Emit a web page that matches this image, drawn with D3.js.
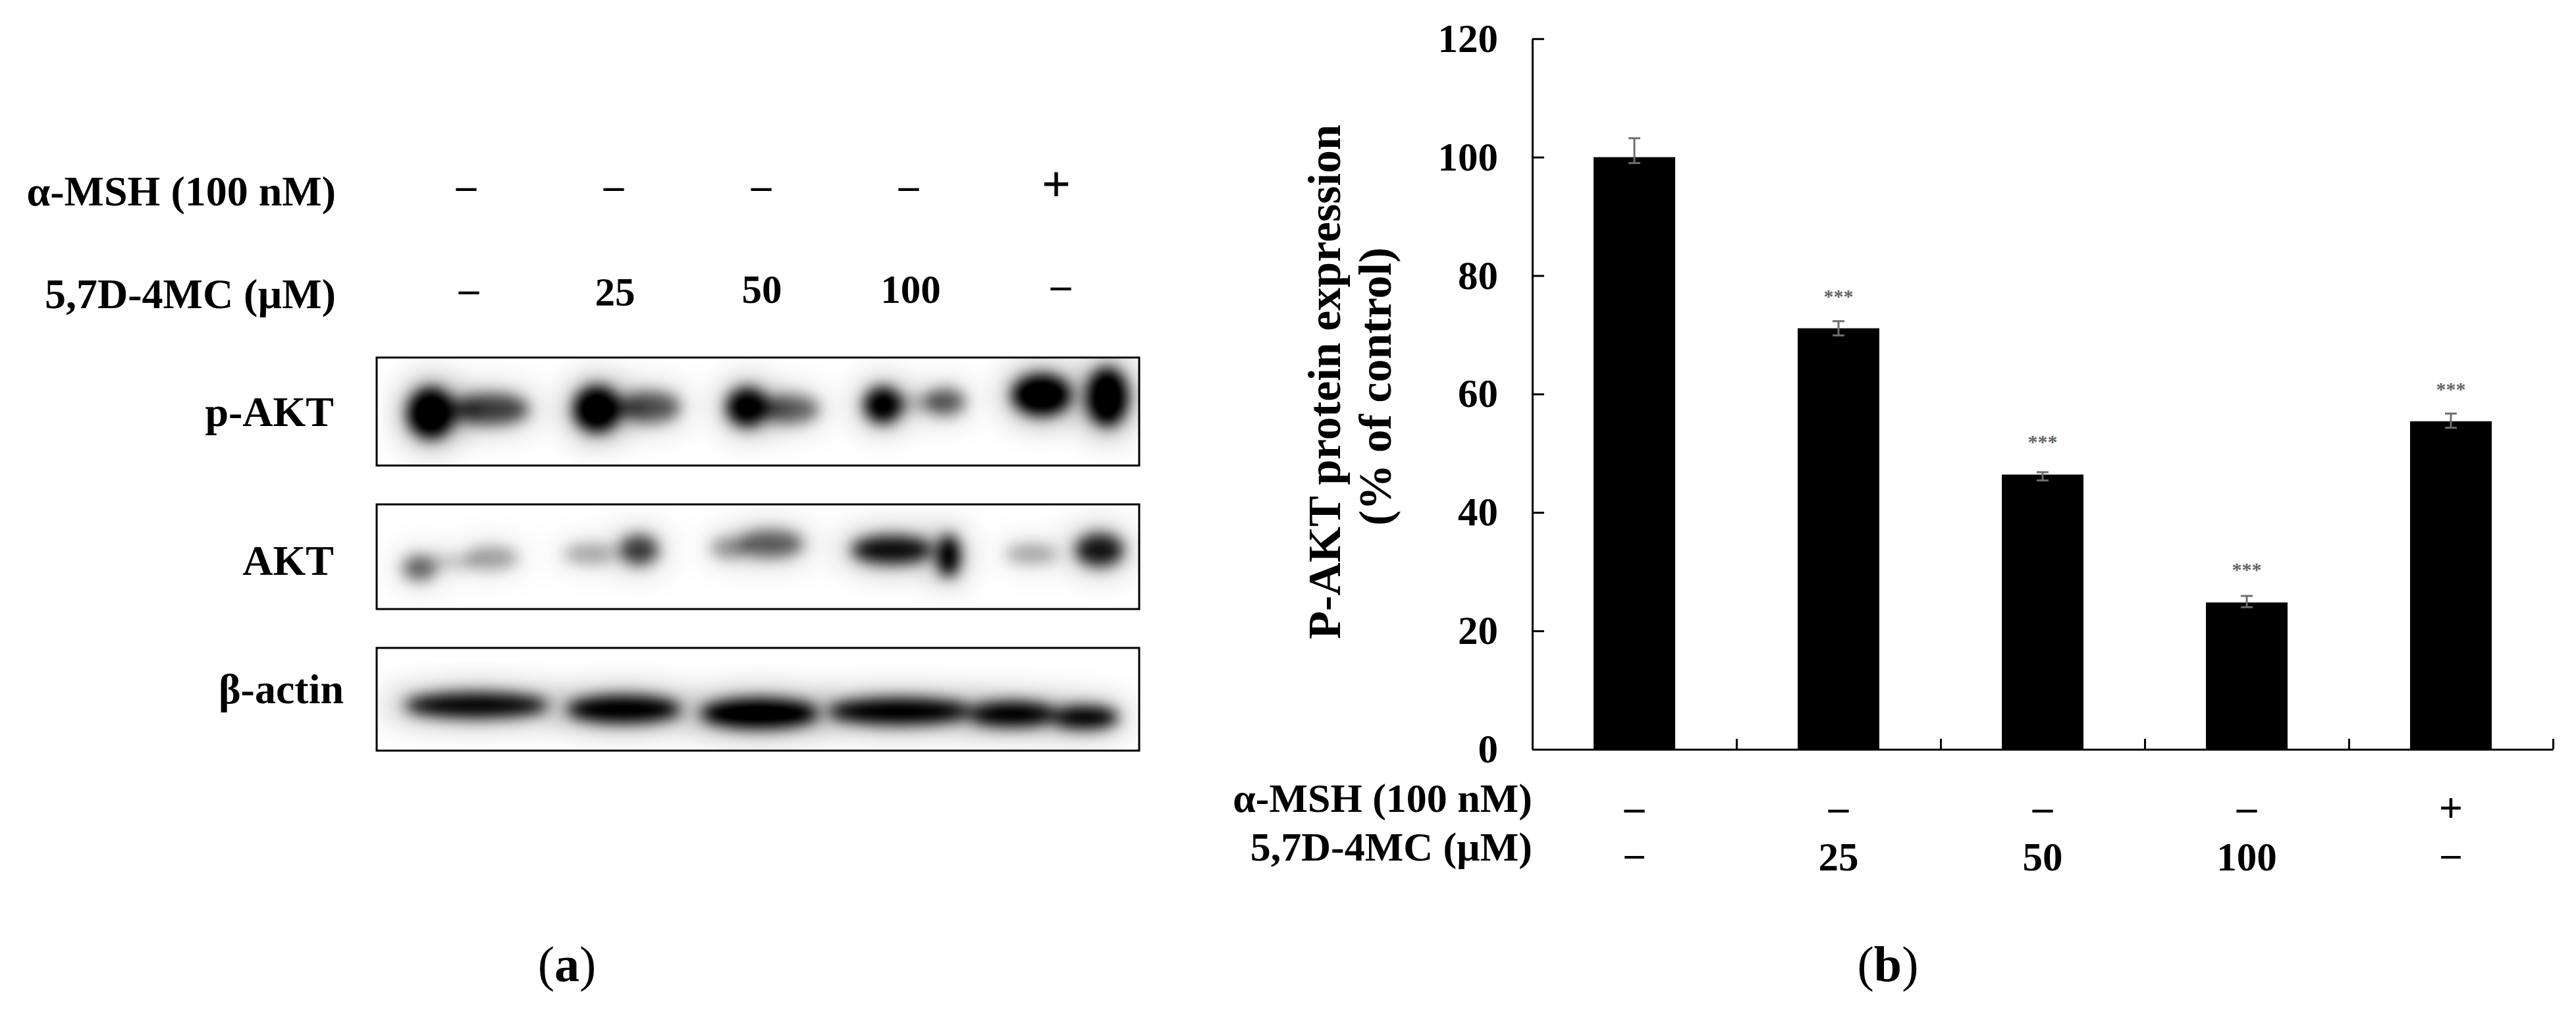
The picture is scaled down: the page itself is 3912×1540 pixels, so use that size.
<!DOCTYPE html>
<html>
<head>
<meta charset="utf-8">
<script src="https://cdn.jsdelivr.net/npm/d3@7"></script>
<style>
  html, body { margin: 0; padding: 0; background: #fff; }
  svg { display: block; }
  text { font-family: "Liberation Serif", serif; font-weight: 700; fill: #000; }
</style>
</head>
<body>
<svg id="fig" width="3912" height="1540"></svg>
<script>
// Treatment groups, same order in both panels
const groups = ["ctrl", "d25", "d50", "d100", "msh"];
const mshRow = ["–", "–", "–", "–", "+"];
const doseRow = ["–", "25", "50", "100", "–"];

// Panel (b) values, % of control
const yTicks = [0, 20, 40, 60, 80, 100, 120];
const means = [100, 71.1, 46.4, 24.8, 55.4];
const errHigh = [103.2, 72.3, 46.8, 25.9, 56.7];
const errLow = [99, 69.9, 45.4, 24, 54.3];
const starValues = [null, 76.7, 52.1, 30.6, 61.1];

// Panel (a) blot lobes: [lane %, migration %, half width %, half height %, darkness]
const pAktLobes = [
  [7.1, 51.5, 2.6, 20, 1], [15.1, 47.8, 4.2, 12, 0.62], [10.5, 49, 3, 9, 0.35],
  [28.9, 47.8, 2.6, 18, 1], [35.9, 45.9, 3.4, 12, 0.55], [32, 47, 3, 8, 0.3],
  [48.6, 45.9, 2.3, 15, 0.95], [54.2, 47.8, 3.3, 11, 0.5], [51.3, 47, 2.5, 7, 0.25],
  [66.4, 44, 2.1, 14, 0.95], [74.5, 41, 2.3, 10, 0.55], [70.6, 42, 3, 6, 0.2],
  [87.2, 34.7, 3.3, 16, 1], [95.8, 36.6, 2.3, 23, 1]
];
const aktLobes = [
  [5.6, 60.8, 1.9, 10, 0.5], [15.1, 51.2, 3, 9, 0.3], [10.1, 55, 3, 5, 0.2],
  [34.4, 43.5, 2.2, 12, 0.65], [27.9, 47.3, 3, 8, 0.28],
  [51.7, 37.7, 3.7, 11, 0.52], [46.3, 41.5, 2.2, 8, 0.35],
  [67.6, 43.5, 4.6, 11, 0.85], [75, 49.2, 1.2, 17, 1],
  [94.8, 43.5, 2.7, 13, 0.8], [85.9, 47.3, 3, 8, 0.28]
];
const actinLobes = [
  [13.1, 55.9, 8.2, 10, 0.9],
  [32.4, 59.8, 6.5, 11, 0.95],
  [50.2, 63.8, 6.7, 12, 1],
  [68.6, 61.8, 8.2, 10.5, 0.95],
  [83.4, 64.6, 5, 10, 0.95], [92.9, 67.7, 3.8, 9, 0.95]
];
const blotNames = ["p-AKT", "AKT", "β-actin"];
const blotLobes = [pAktLobes, aktLobes, actinLobes];

const svg = d3.select("#fig");
const fontSize = 61;

// --- blur filters for the bands
const defs = svg.append("defs");
[["coreBlur", 11, 1.15], ["haloBlur", 24, 1]].forEach(([id, sd, slope]) => {
  const f = defs.append("filter").attr("id", id)
    .attr("x", "-60%").attr("y", "-60%").attr("width", "220%").attr("height", "220%");
  f.append("feGaussianBlur").attr("stdDeviation", sd);
  f.append("feComponentTransfer").append("feFuncA").attr("type", "linear").attr("slope", slope);
});

// --- Panel (a)
const boxX = [572, 1730];
const boxes = [[543, 707], [766, 925], [984, 1140]];
const labelPos = [[507, 647], [507, 873], [522, 1068]];

const xBlot = d3.scaleLinear().domain([0, 100]).range(boxX);
const panelA = svg.append("g").attr("class", "panel-a");

blotNames.forEach((name, i) => {
  const yBlot = d3.scaleLinear().domain([0, 100]).range(boxes[i]);
  const clipId = "clip" + i;
  defs.append("clipPath").attr("id", clipId).append("rect")
    .attr("x", boxX[0]).attr("y", boxes[i][0])
    .attr("width", boxX[1] - boxX[0]).attr("height", boxes[i][1] - boxes[i][0]);

  const g = panelA.append("g").attr("clip-path", `url(#${clipId})`);
  const lobes = blotLobes[i];

  g.append("g").attr("filter", "url(#haloBlur)").selectAll("ellipse").data(lobes).join("ellipse")
    .attr("cx", d => xBlot(d[0])).attr("cy", d => yBlot(d[1]))
    .attr("rx", d => (xBlot(d[2]) - xBlot(0)) * 1.5)
    .attr("ry", d => (yBlot(d[3]) - yBlot(0)) * 1.6)
    .attr("fill", "#000").attr("fill-opacity", d => d[4] * 0.38);

  g.append("g").attr("filter", "url(#coreBlur)").selectAll("ellipse").data(lobes).join("ellipse")
    .attr("cx", d => xBlot(d[0])).attr("cy", d => yBlot(d[1]))
    .attr("rx", d => (xBlot(d[2]) - xBlot(0)) * 1.15)
    .attr("ry", d => (yBlot(d[3]) - yBlot(0)) * 1.15)
    .attr("fill", "#000").attr("fill-opacity", d => d[4]);

  panelA.append("rect")
    .attr("x", boxX[0]).attr("y", boxes[i][0])
    .attr("width", boxX[1] - boxX[0]).attr("height", boxes[i][1] - boxes[i][0])
    .attr("fill", "none").attr("stroke", "#000").attr("stroke-width", 3);

  panelA.append("text")
    .attr("x", labelPos[i][0]).attr("y", labelPos[i][1])
    .attr("text-anchor", "end").attr("font-size", 64)
    .text(name);
});

// treatment table above the blots
const xLane = d3.scalePoint().domain(groups).range([708, 1604]);
const doseNudgeX = [4, 2, 1, 3, 7];
const doseNudgeY = [0, 0, -4, -4, -6];

panelA.append("text").attr("x", 510).attr("y", 312)
  .attr("text-anchor", "end").attr("font-size", 64).text("α-MSH (100 nM)");
panelA.append("text").attr("x", 510).attr("y", 468)
  .attr("text-anchor", "end").attr("font-size", 64).text("5,7D-4MC (µM)");

panelA.selectAll(".msh").data(mshRow).join("text").attr("class", "msh")
  .attr("x", (d, i) => xLane(groups[i]))
  .attr("y", d => d === "+" ? 306 : 302)
  .attr("text-anchor", "middle")
  .attr("font-size", d => d === "+" ? 78 : fontSize)
  .attr("font-weight", 400)
  .text(d => d);

panelA.selectAll(".dose").data(doseRow).join("text").attr("class", "dose")
  .attr("x", (d, i) => xLane(groups[i]) + doseNudgeX[i])
  .attr("y", (d, i) => (d === "–" ? 459 : 464) + doseNudgeY[i])
  .attr("text-anchor", "middle").attr("font-size", fontSize)
  .text(d => d);

panelA.append("text").attr("x", 861).attr("y", 1490)
  .attr("text-anchor", "middle").attr("font-size", 76)
  .call(t => {
    t.append("tspan").attr("font-weight", 400).text("(");
    t.append("tspan").text("a");
    t.append("tspan").attr("font-weight", 400).text(")");
  });

// --- Panel (b)
const axisX = [2327, 3877];
const axisY = [1138, 58.8];

const x = d3.scaleBand().domain(groups).range(axisX).paddingInner(0.6).paddingOuter(0.3);
const xEdges = d3.scaleLinear().domain([0, groups.length]).range(axisX);
const y = d3.scaleLinear().domain([0, 120]).range(axisY);
const cx = (d, i) => x(groups[i]) + x.bandwidth() / 2;

const panelB = svg.append("g").attr("class", "panel-b");

panelB.append("g").selectAll("rect").data(means).join("rect")
  .attr("x", (d, i) => x(groups[i]))
  .attr("y", d => y(d))
  .attr("width", x.bandwidth())
  .attr("height", d => y(0) - y(d))
  .attr("fill", "#000");

// error bars, grey over the black bars
const errG = panelB.append("g").attr("stroke", "#6e6e6e").attr("stroke-width", 3).attr("fill", "none");
errG.selectAll(".stem").data(means).join("line").attr("class", "stem")
  .attr("x1", cx).attr("x2", cx)
  .attr("y1", (d, i) => y(errHigh[i])).attr("y2", (d, i) => y(errLow[i]));
[errHigh, errLow].forEach((vals, k) => {
  errG.selectAll(".cap" + k).data(vals).join("line").attr("class", "cap" + k)
    .attr("x1", (d, i) => cx(d, i) - 9).attr("x2", (d, i) => cx(d, i) + 9)
    .attr("y1", d => y(d)).attr("y2", d => y(d));
});

// significance marks, first group has none
panelB.selectAll(".stars").data(starValues).join("text").attr("class", "stars")
  .attr("x", cx)
  .attr("y", d => d === null ? 0 : y(d) + 12)
  .attr("text-anchor", "middle")
  .attr("font-size", 30)
  .attr("font-weight", 400)
  .style("fill", "#666")
  .text(d => d === null ? "" : "***");

const yAxis = panelB.append("g").attr("transform", `translate(${axisX[0]},0)`)
  .call(d3.axisLeft(y).tickValues(yTicks).tickSizeInner(-18).tickSizeOuter(0).tickPadding(52));
const xAxis = panelB.append("g").attr("transform", `translate(0,${axisY[0]})`)
  .call(d3.axisBottom(xEdges).ticks(groups.length).tickFormat("").tickSizeInner(-16).tickSizeOuter(0));

[yAxis, xAxis].forEach(a => {
  a.selectAll("path, line").attr("stroke", "#000").attr("stroke-width", 3);
  a.selectAll("text").attr("font-size", fontSize).attr("font-family", null);
});

panelB.append("text").attr("x", 2327).attr("y", 1233)
  .attr("text-anchor", "end").attr("font-size", 62).text("α-MSH (100 nM)");
panelB.append("text").attr("x", 2327).attr("y", 1307)
  .attr("text-anchor", "end").attr("font-size", 62).text("5,7D-4MC (µM)");

panelB.selectAll(".msh").data(mshRow).join("text").attr("class", "msh")
  .attr("x", cx).attr("y", d => d === "+" ? 1248 : 1246)
  .attr("text-anchor", "middle")
  .attr("font-size", d => d === "+" ? 64 : fontSize)
  .text(d => d);
panelB.selectAll(".dose").data(doseRow).join("text").attr("class", "dose")
  .attr("x", cx).attr("y", d => d === "–" ? 1315 : 1322)
  .attr("text-anchor", "middle")
  .attr("font-size", d => d === "–" ? 58 : fontSize)
  .text(d => d);

panelB.append("text")
  .attr("transform", "translate(2035,580) rotate(-90)")
  .attr("text-anchor", "middle").attr("font-size", 70)
  .text("P-AKT protein expression");
panelB.append("text")
  .attr("transform", "translate(2112,587) rotate(-90)")
  .attr("text-anchor", "middle").attr("font-size", 70)
  .text("(% of control)");

panelB.append("text").attr("x", 2867).attr("y", 1490)
  .attr("text-anchor", "middle").attr("font-size", 76)
  .call(t => {
    t.append("tspan").attr("font-weight", 400).text("(");
    t.append("tspan").text("b");
    t.append("tspan").attr("font-weight", 400).text(")");
  });
</script>
</body>
</html>
